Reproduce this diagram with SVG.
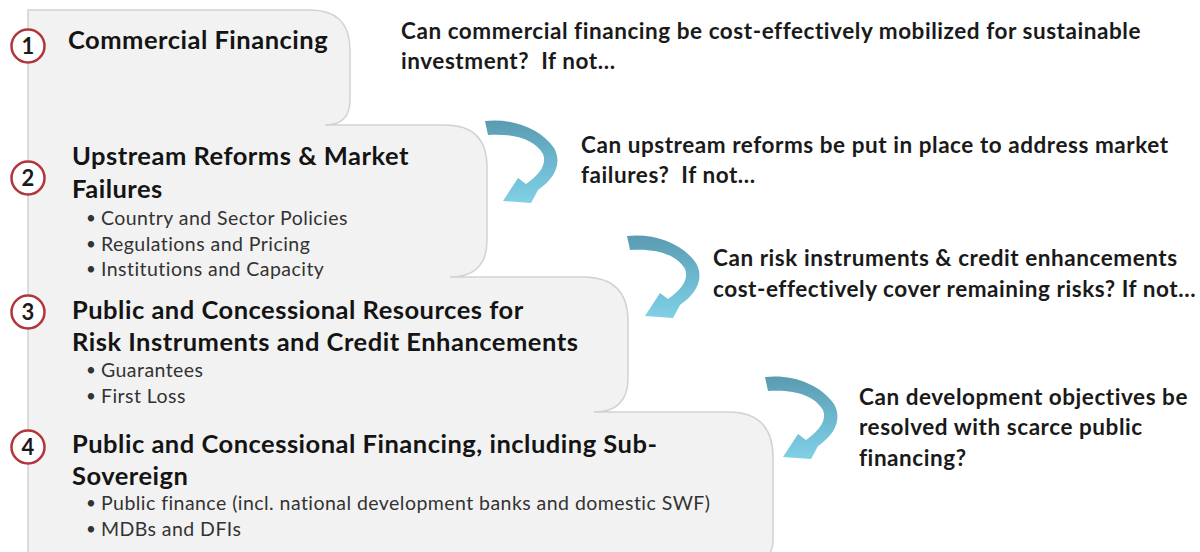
<svg xmlns="http://www.w3.org/2000/svg" xmlns:xlink="http://www.w3.org/1999/xlink" width="1200" height="552" viewBox="0 0 1200 552">
<style>
  .head { font-family: Lato, "Open Sans", "Liberation Sans", sans-serif; font-weight: 700; font-size: 25.5px; letter-spacing: 0.5px; fill: #141414; }
  .bul { font-family: Lato, "Open Sans", "Liberation Sans", sans-serif; font-weight: 400; font-size: 19.5px; letter-spacing: 0.45px; fill: #333333; }
  .dot { font-family: Lato, "Open Sans", "Liberation Sans", sans-serif; font-weight: 400; font-size: 17px; fill: #333333; }
  .q { font-family: Lato, "Open Sans", "Liberation Sans", sans-serif; font-weight: 700; font-size: 22.5px; letter-spacing: 0.55px; fill: #1a1a1a; }
  .num { font-family: Lato, "Open Sans", "Liberation Sans", sans-serif; font-weight: 700; font-size: 22px; fill: #1a1a1a; text-anchor: middle; }
  .badge { fill: #ffffff; stroke: #b3353c; stroke-width: 2.5; }
  .stair { fill: #f2f2f2; stroke: #d2d2d2; stroke-width: 1.5; }
  .arrow { fill: url(#arrGrad); }
</style>
<defs>
  <linearGradient id="arrGrad" x1="0" y1="0" x2="0" y2="1">
    <stop offset="0" stop-color="#5a9bb1"/>
    <stop offset="0.5" stop-color="#6cb7cf"/>
    <stop offset="1" stop-color="#80d0e6"/>
  </linearGradient>
  <path id="arr" d="M485,121 C512,118 540,128 554,148 C562,162 556,178 538,190 L531,203 L503,201 L518,178 L526,184 C540,174 547,164 543,154 C535,140 515,133 488,135 Z"/>
</defs>

<g id="stair-shape">
  <path class="stair" d="M28,10 H310 Q350,10 350,50 V100 Q350,125 325,125 H445 Q487,125 487,167 V240 Q487,277 450,277 H585 Q628,278 628,321 V378 Q628,412 594,412 H728 Q773,412 773,457 V540 Q773,560 753,560 H28 Z"/>
</g>

<g id="level-1">
  <circle class="badge" cx="28" cy="46" r="16.5"/>
  <text class="num" x="28" y="54">1</text>
  <text class="head" x="68" y="49">Commercial Financing</text>
</g>

<g id="level-2">
  <circle class="badge" cx="28" cy="178" r="16.5"/>
  <text class="num" x="28" y="186">2</text>
  <text class="head" x="72" y="165">Upstream Reforms &amp; Market</text>
  <text class="head" x="72" y="198">Failures</text>
  <text class="dot" x="86" y="224">•</text><text class="bul" x="101" y="225">Country and Sector Policies</text>
  <text class="dot" x="86" y="250">•</text><text class="bul" x="101" y="251">Regulations and Pricing</text>
  <text class="dot" x="86" y="275">•</text><text class="bul" x="101" y="276">Institutions and Capacity</text>
</g>

<g id="level-3">
  <circle class="badge" cx="28" cy="312" r="16.5"/>
  <text class="num" x="28" y="320">3</text>
  <text class="head" x="72" y="319">Public and Concessional Resources for</text>
  <text class="head" x="72" y="351">Risk Instruments and Credit Enhancements</text>
  <text class="dot" x="86" y="376">•</text><text class="bul" x="101" y="377">Guarantees</text>
  <text class="dot" x="86" y="402">•</text><text class="bul" x="101" y="403">First Loss</text>
</g>

<g id="level-4">
  <circle class="badge" cx="28" cy="447" r="16.5"/>
  <text class="num" x="28" y="455">4</text>
  <text class="head" x="72" y="453">Public and Concessional Financing, including Sub-</text>
  <text class="head" x="72" y="485">Sovereign</text>
  <text class="dot" x="86" y="509">•</text><text class="bul" x="101" y="510">Public finance (incl. national development banks and domestic SWF)</text>
  <text class="dot" x="86" y="535">•</text><text class="bul" x="101" y="536">MDBs and DFIs</text>
</g>

<g id="question-1">
  <text class="q" x="401" y="39">Can commercial financing be cost-effectively mobilized for sustainable</text>
  <text class="q" x="401" y="69" xml:space="preserve">investment?  If not…</text>
</g>
<g id="question-2">
  <text class="q" x="581" y="153">Can upstream reforms be put in place to address market</text>
  <text class="q" x="581" y="183" xml:space="preserve">failures?  If not…</text>
</g>
<g id="question-3">
  <text class="q" x="713" y="266">Can risk instruments &amp; credit enhancements</text>
  <text class="q" x="713" y="297">cost-effectively cover remaining risks? If not…</text>
</g>
<g id="question-4">
  <text class="q" x="859" y="405">Can development objectives be</text>
  <text class="q" x="859" y="435">resolved with scarce public</text>
  <text class="q" x="859" y="466">financing?</text>
</g>

<g id="connectors">
  <use class="arrow" xlink:href="#arr" href="#arr"/>
  <use class="arrow" xlink:href="#arr" href="#arr" transform="translate(142,115)"/>
  <use class="arrow" xlink:href="#arr" href="#arr" transform="translate(280,256)"/>
</g>
</svg>
